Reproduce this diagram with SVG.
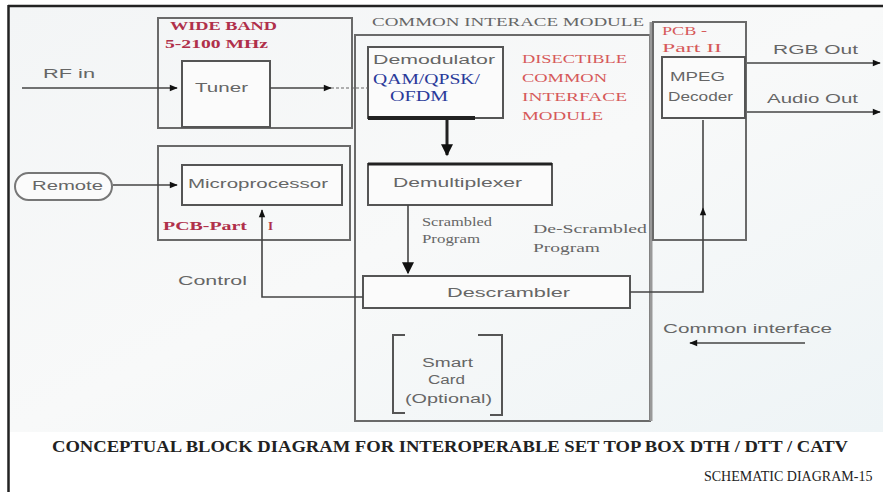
<svg xmlns="http://www.w3.org/2000/svg" width="883" height="492" viewBox="0 0 883 492">
<defs>
<linearGradient id="bg" x1="0" y1="0" x2="1" y2="1">
<stop offset="0" stop-color="#f3f5f6"/>
<stop offset="0.5" stop-color="#f8f9f9"/>
<stop offset="1" stop-color="#eef4f6"/>
</linearGradient>
<marker id="ah" viewBox="0 0 10 10" refX="9" refY="5" markerWidth="10" markerHeight="8" markerUnits="userSpaceOnUse" orient="auto">
<path d="M0,1 L10,5 L0,9 Z" fill="#111"/>
</marker>
<marker id="ahb" viewBox="0 0 10 10" refX="9" refY="5" markerWidth="14" markerHeight="12" markerUnits="userSpaceOnUse" orient="auto">
<path d="M0,0 L10,5 L0,10 Z" fill="#111"/>
</marker>
</defs>
<style>
.box{fill:none;stroke:#6a6a6a;stroke-width:2}
.inner{fill:#fbfbfb;stroke:#555;stroke-width:2}
.ln{fill:none;stroke:#444;stroke-width:1.6}
.s{font-family:"Liberation Sans",Arial,sans-serif;font-size:12px;fill:#666}
.r{font-family:"Liberation Serif","Times New Roman",serif;font-size:13px;fill:#d65a5a}
.rd{font-family:"Liberation Serif","Times New Roman",serif;font-size:13px;font-weight:bold;fill:#b0304a}
.b{font-family:"Liberation Serif","Times New Roman",serif;font-size:14px;fill:#2a3a9a}
.g{font-family:"Liberation Serif","Times New Roman",serif;font-size:12px;fill:#666}
.cap{font-family:"Liberation Serif","Times New Roman",serif;font-size:16px;font-weight:bold;fill:#222}
</style>
<rect x="0" y="0" width="883" height="492" fill="#fff"/>
<rect x="9" y="7" width="874" height="425" fill="url(#bg)"/>
<line x1="8" y1="6" x2="883" y2="6" stroke="#222" stroke-width="2.5"/>
<line x1="8.5" y1="5" x2="8.5" y2="492" stroke="#222" stroke-width="2.5"/>

<g id="wideband">
<rect class="box" x="158" y="18" width="194" height="110"/>
<text class="rd" x="170" y="30" textLength="107" lengthAdjust="spacingAndGlyphs">WIDE BAND</text>
<text class="rd" x="165" y="48" textLength="103" lengthAdjust="spacingAndGlyphs">5-2100 MHz</text>
</g>
<g id="tuner">
<rect class="inner" x="182" y="61" width="88" height="66"/>
<text class="s" x="195" y="92" textLength="53" lengthAdjust="spacingAndGlyphs">Tuner</text>
</g>
<g id="pcb1">
<rect class="box" x="158" y="146" width="192" height="94"/>
<text class="rd" x="163" y="230" textLength="84" lengthAdjust="spacingAndGlyphs">PCB-Part</text>
<text class="rd" x="268" y="230">I</text>
</g>
<g id="microprocessor">
<rect class="inner" x="182" y="165" width="160" height="40"/>
<text class="s" x="188" y="188" textLength="140" lengthAdjust="spacingAndGlyphs">Microprocessor</text>
</g>
<g id="remote">
<rect x="15" y="173" width="97" height="27" rx="13.5" fill="#fbfbfb" stroke="#777" stroke-width="2"/>
<text class="s" x="32" y="190" textLength="71" lengthAdjust="spacingAndGlyphs">Remote</text>
</g>
<g id="cim">
<rect class="box" x="355" y="35" width="295" height="386"/>
<line x1="651" y1="22" x2="651" y2="421" stroke="#999" stroke-width="3"/>
<text class="g" x="372" y="26" font-size="13" textLength="272" lengthAdjust="spacingAndGlyphs">COMMON INTERACE MODULE</text>
<text class="r" x="522" y="63" textLength="105" lengthAdjust="spacingAndGlyphs">DISECTIBLE</text>
<text class="r" x="522" y="82" textLength="85" lengthAdjust="spacingAndGlyphs">COMMON</text>
<text class="r" x="522" y="101" textLength="105" lengthAdjust="spacingAndGlyphs">INTERFACE</text>
<text class="r" x="522" y="120" textLength="81" lengthAdjust="spacingAndGlyphs">MODULE</text>
</g>
<g id="demodulator">
<rect class="inner" x="368" y="47" width="135" height="71"/>
<line x1="368" y1="118" x2="475" y2="118" stroke="#222" stroke-width="4"/>
<text class="s" x="373" y="64" textLength="122" lengthAdjust="spacingAndGlyphs">Demodulator</text>
<text class="b" x="373" y="84" textLength="107" lengthAdjust="spacingAndGlyphs">QAM/QPSK/</text>
<text class="b" x="390" y="101" textLength="58" lengthAdjust="spacingAndGlyphs">OFDM</text>
</g>
<g id="demultiplexer">
<rect class="inner" x="368" y="164" width="184" height="41"/>
<line x1="368" y1="164" x2="552" y2="164" stroke="#222" stroke-width="3"/>
<text class="s" x="393" y="187" textLength="129" lengthAdjust="spacingAndGlyphs">Demultiplexer</text>
</g>
<g id="descrambler">
<rect class="inner" x="363" y="276" width="267" height="32"/>
<text class="s" x="447" y="297" textLength="123" lengthAdjust="spacingAndGlyphs">Descrambler</text>
</g>
<g id="smartcard">
<path d="M405,335 H393 V413 H405" fill="none" stroke="#555" stroke-width="2"/>
<path d="M478,335 H502 V415 H490" fill="none" stroke="#555" stroke-width="2"/>
<text class="s" x="422" y="367" textLength="51" lengthAdjust="spacingAndGlyphs">Smart</text>
<text class="s" x="428" y="384" textLength="37" lengthAdjust="spacingAndGlyphs">Card</text>
<text class="s" x="405" y="403" textLength="87" lengthAdjust="spacingAndGlyphs">(Optional)</text>
</g>
<g id="pcb2">
<rect class="box" x="653" y="22" width="93" height="218"/>
<text class="r" x="662" y="35" textLength="45" lengthAdjust="spacingAndGlyphs">PCB -</text>
<text class="r" x="662" y="52" textLength="60" lengthAdjust="spacingAndGlyphs">Part II</text>
</g>
<g id="mpeg">
<rect class="inner" x="662" y="57" width="83" height="61"/>
<text class="s" x="670" y="81" textLength="55" lengthAdjust="spacingAndGlyphs">MPEG</text>
<text class="s" x="668" y="101" textLength="65" lengthAdjust="spacingAndGlyphs">Decoder</text>
</g>

<g id="connectors">
<line class="ln" x1="22" y1="88" x2="177" y2="88" marker-end="url(#ah)"/>
<line class="ln" x1="270" y1="88" x2="331" y2="88" marker-end="url(#ah)"/>
<line x1="331" y1="88" x2="368" y2="88" stroke="#666" stroke-width="1.2" stroke-dasharray="3,2"/>
<line class="ln" x1="113" y1="185" x2="177" y2="185" marker-end="url(#ah)"/>
<line stroke="#222" stroke-width="3" x1="447" y1="120" x2="447" y2="155" marker-end="url(#ahb)"/>
<line class="ln" x1="408" y1="205" x2="408" y2="273" marker-end="url(#ahb)"/>
<polyline class="ln" points="363,297 262,297 262,210" marker-end="url(#ah)"/>
<polyline class="ln" points="630,292 703,292 703,208" marker-end="url(#ah)"/>
<line class="ln" x1="703" y1="208" x2="703" y2="120"/>
<line class="ln" x1="747" y1="63" x2="880" y2="63" marker-end="url(#ah)"/>
<line class="ln" x1="747" y1="112" x2="880" y2="112" marker-end="url(#ah)"/>
<line class="ln" x1="805" y1="343" x2="690" y2="343" marker-end="url(#ah)"/>
</g>

<g id="labels">
<text class="s" x="43" y="78" textLength="52" lengthAdjust="spacingAndGlyphs">RF in</text>
<text class="s" x="178" y="285" textLength="69" lengthAdjust="spacingAndGlyphs">Control</text>
<text class="g" x="422" y="226" textLength="70" lengthAdjust="spacingAndGlyphs">Scrambled</text>
<text class="g" x="422" y="243" textLength="58" lengthAdjust="spacingAndGlyphs">Program</text>
<text class="g" x="533" y="233" font-size="13" textLength="114" lengthAdjust="spacingAndGlyphs">De-Scrambled</text>
<text class="g" x="533" y="252" textLength="67" lengthAdjust="spacingAndGlyphs">Program</text>
<text class="s" x="773" y="54" textLength="85" lengthAdjust="spacingAndGlyphs">RGB Out</text>
<text class="s" x="767" y="103" textLength="91" lengthAdjust="spacingAndGlyphs">Audio Out</text>
<text class="s" x="663" y="333" font-size="13" textLength="169" lengthAdjust="spacingAndGlyphs">Common interface</text>
</g>

<text class="cap" x="52" y="452" textLength="796" lengthAdjust="spacingAndGlyphs">CONCEPTUAL BLOCK DIAGRAM FOR INTEROPERABLE SET TOP BOX DTH / DTT / CATV</text>
<text x="704" y="481" font-family="'Liberation Serif','Times New Roman',serif" font-size="14" fill="#222">SCHEMATIC DIAGRAM-15</text>
</svg>
